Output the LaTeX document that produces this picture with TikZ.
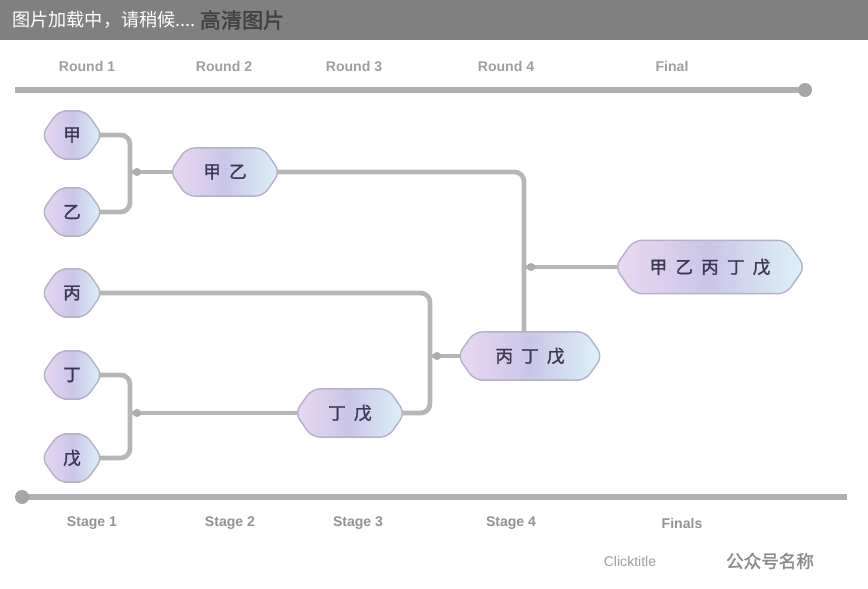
\documentclass[tikz,border=0pt]{standalone}
\usepackage{fontspec}
\setmainfont{Liberation Sans}
\newfontfamily\cjk{Noto Sans CJK SC}
\newfontfamily\cjkb[FakeBold=1.6]{Noto Sans CJK SC}
\usetikzlibrary{shapes.symbols,backgrounds}
\definecolor{barg}{HTML}{808080}
\definecolor{lineg}{HTML}{B6B6B6}
\definecolor{lilac}{HTML}{EAD8F2}
\definecolor{mauve}{HTML}{CAC6E8}
\definecolor{icecyan}{HTML}{DDF3F9}
\definecolor{inkv}{HTML}{3E3952}
\newcommand{\gp}{\hspace{7pt}}

\begin{document}
\begin{tikzpicture}[x=0.03cm,y=-0.03cm,
    stone/.style={signal, signal to=west and east, signal pointer angle=110,
      draw=mauve!70!gray, line width=1.2pt, rounded corners=7pt,
      left color=lilac, right color=icecyan, middle color=mauve,
      text=inkv, font=\cjkb\fontsize{15}{15}\selectfont,
      inner xsep=4pt, minimum height=1.45cm},
    link/.style={draw=lineg, line width=4pt, rounded corners=8pt},
    tag/.style={text=gray!75, font=\bfseries\fontsize{12}{12}\selectfont},
    junc/.style={fill=gray!65}]
  \useasboundingbox (0,0) rectangle (868,589);
  % loading bar
  \fill[barg] (0,0) rectangle (868,40);
  \node[anchor=west, text=white, font=\cjk\fontsize{15.5}{15.5}\selectfont, inner sep=0pt] (bar) at (12,20) {图片加载中，请稍候....};
  \node[anchor=west, text=black!75, font=\cjkb\fontsize{18}{18}\selectfont, inner sep=0pt] (mark) at (bar.east) {\,高清图片};
  % time axes
  \draw[lineg!90!gray, line width=5pt] (15,90) -- (805,90);
  \fill[lineg!70!gray] (805,90) circle (7);
  \draw[lineg!90!gray, line width=5pt] (22,497) -- (847,497);
  \fill[lineg!70!gray] (22,497) circle (7);
  \foreach \x/\t in {87/Round 1,224/Round 2,354/Round 3,506/Round 4,672/Final}
    \node[tag] at (\x,66) {\t};
  \foreach \x/\t in {92/Stage 1,230/Stage 2,358/Stage 3,511/Stage 4,682/Finals}
    \node[tag, text=gray!85] at (\x,523) {\t};
  \node[tag, font=\fontsize{12}{12}\selectfont] (click) at (630,561) {Clicktitle};
  \node[text=gray!90, font=\cjkb\fontsize{15}{15}\selectfont] (name) at (770,561) {公众号名称};
  % joins
  \coordinate (jab) at (130,172);
  \coordinate (jde) at (130,413);
  \coordinate (jc) at (430,356);
  \coordinate (jall) at (524,267);
  % nodes
  \node[stone, minimum width=1.65cm] (l1) at (72,135) {甲};
  \node[stone, minimum width=1.65cm] (l2) at (72,212) {乙};
  \node[stone, minimum width=1.65cm] (l3) at (72,293) {丙};
  \node[stone, minimum width=1.65cm] (l4) at (72,375) {丁};
  \node[stone, minimum width=1.65cm] (l5) at (72,458) {戊};
  \node[stone, minimum width=3.3cm] (ab) at (225,172) {甲\gp 乙};
  \node[stone, minimum width=3.3cm] (de) at (350,413) {丁\gp 戊};
  \node[stone, minimum width=4.35cm] (cde) at (530,356) {丙\gp 丁\gp 戊};
  \node[stone, minimum width=5.7cm, minimum height=1.6cm] (all) at (710,267) {甲\gp 乙\gp 丙\gp 丁\gp 戊};
  \begin{scope}[on background layer]
  \fill[white] (0,0) rectangle (868,589);
  \draw[link] (l1.center) -| (jab) |- (l2.center);
  \draw[link] (jab) -- (ab.center);
  \draw[link] (l4.center) -| (jde) |- (l5.center);
  \draw[link] (jde) -- (de.center);
  \draw[link] (l3.center) -| (jc) |- (de.center);
  \draw[link] (jc) -- (cde.center);
  \draw[link] (ab.center) -| (jall) -- (jall |- cde.center);
  \draw[link] (jall) -- (all.center);
  \foreach \j in {jab,jde,jc,jall}
    \fill[junc] ([xshift=6]\j) circle (4);
  \end{scope}
\end{tikzpicture}
\end{document}
